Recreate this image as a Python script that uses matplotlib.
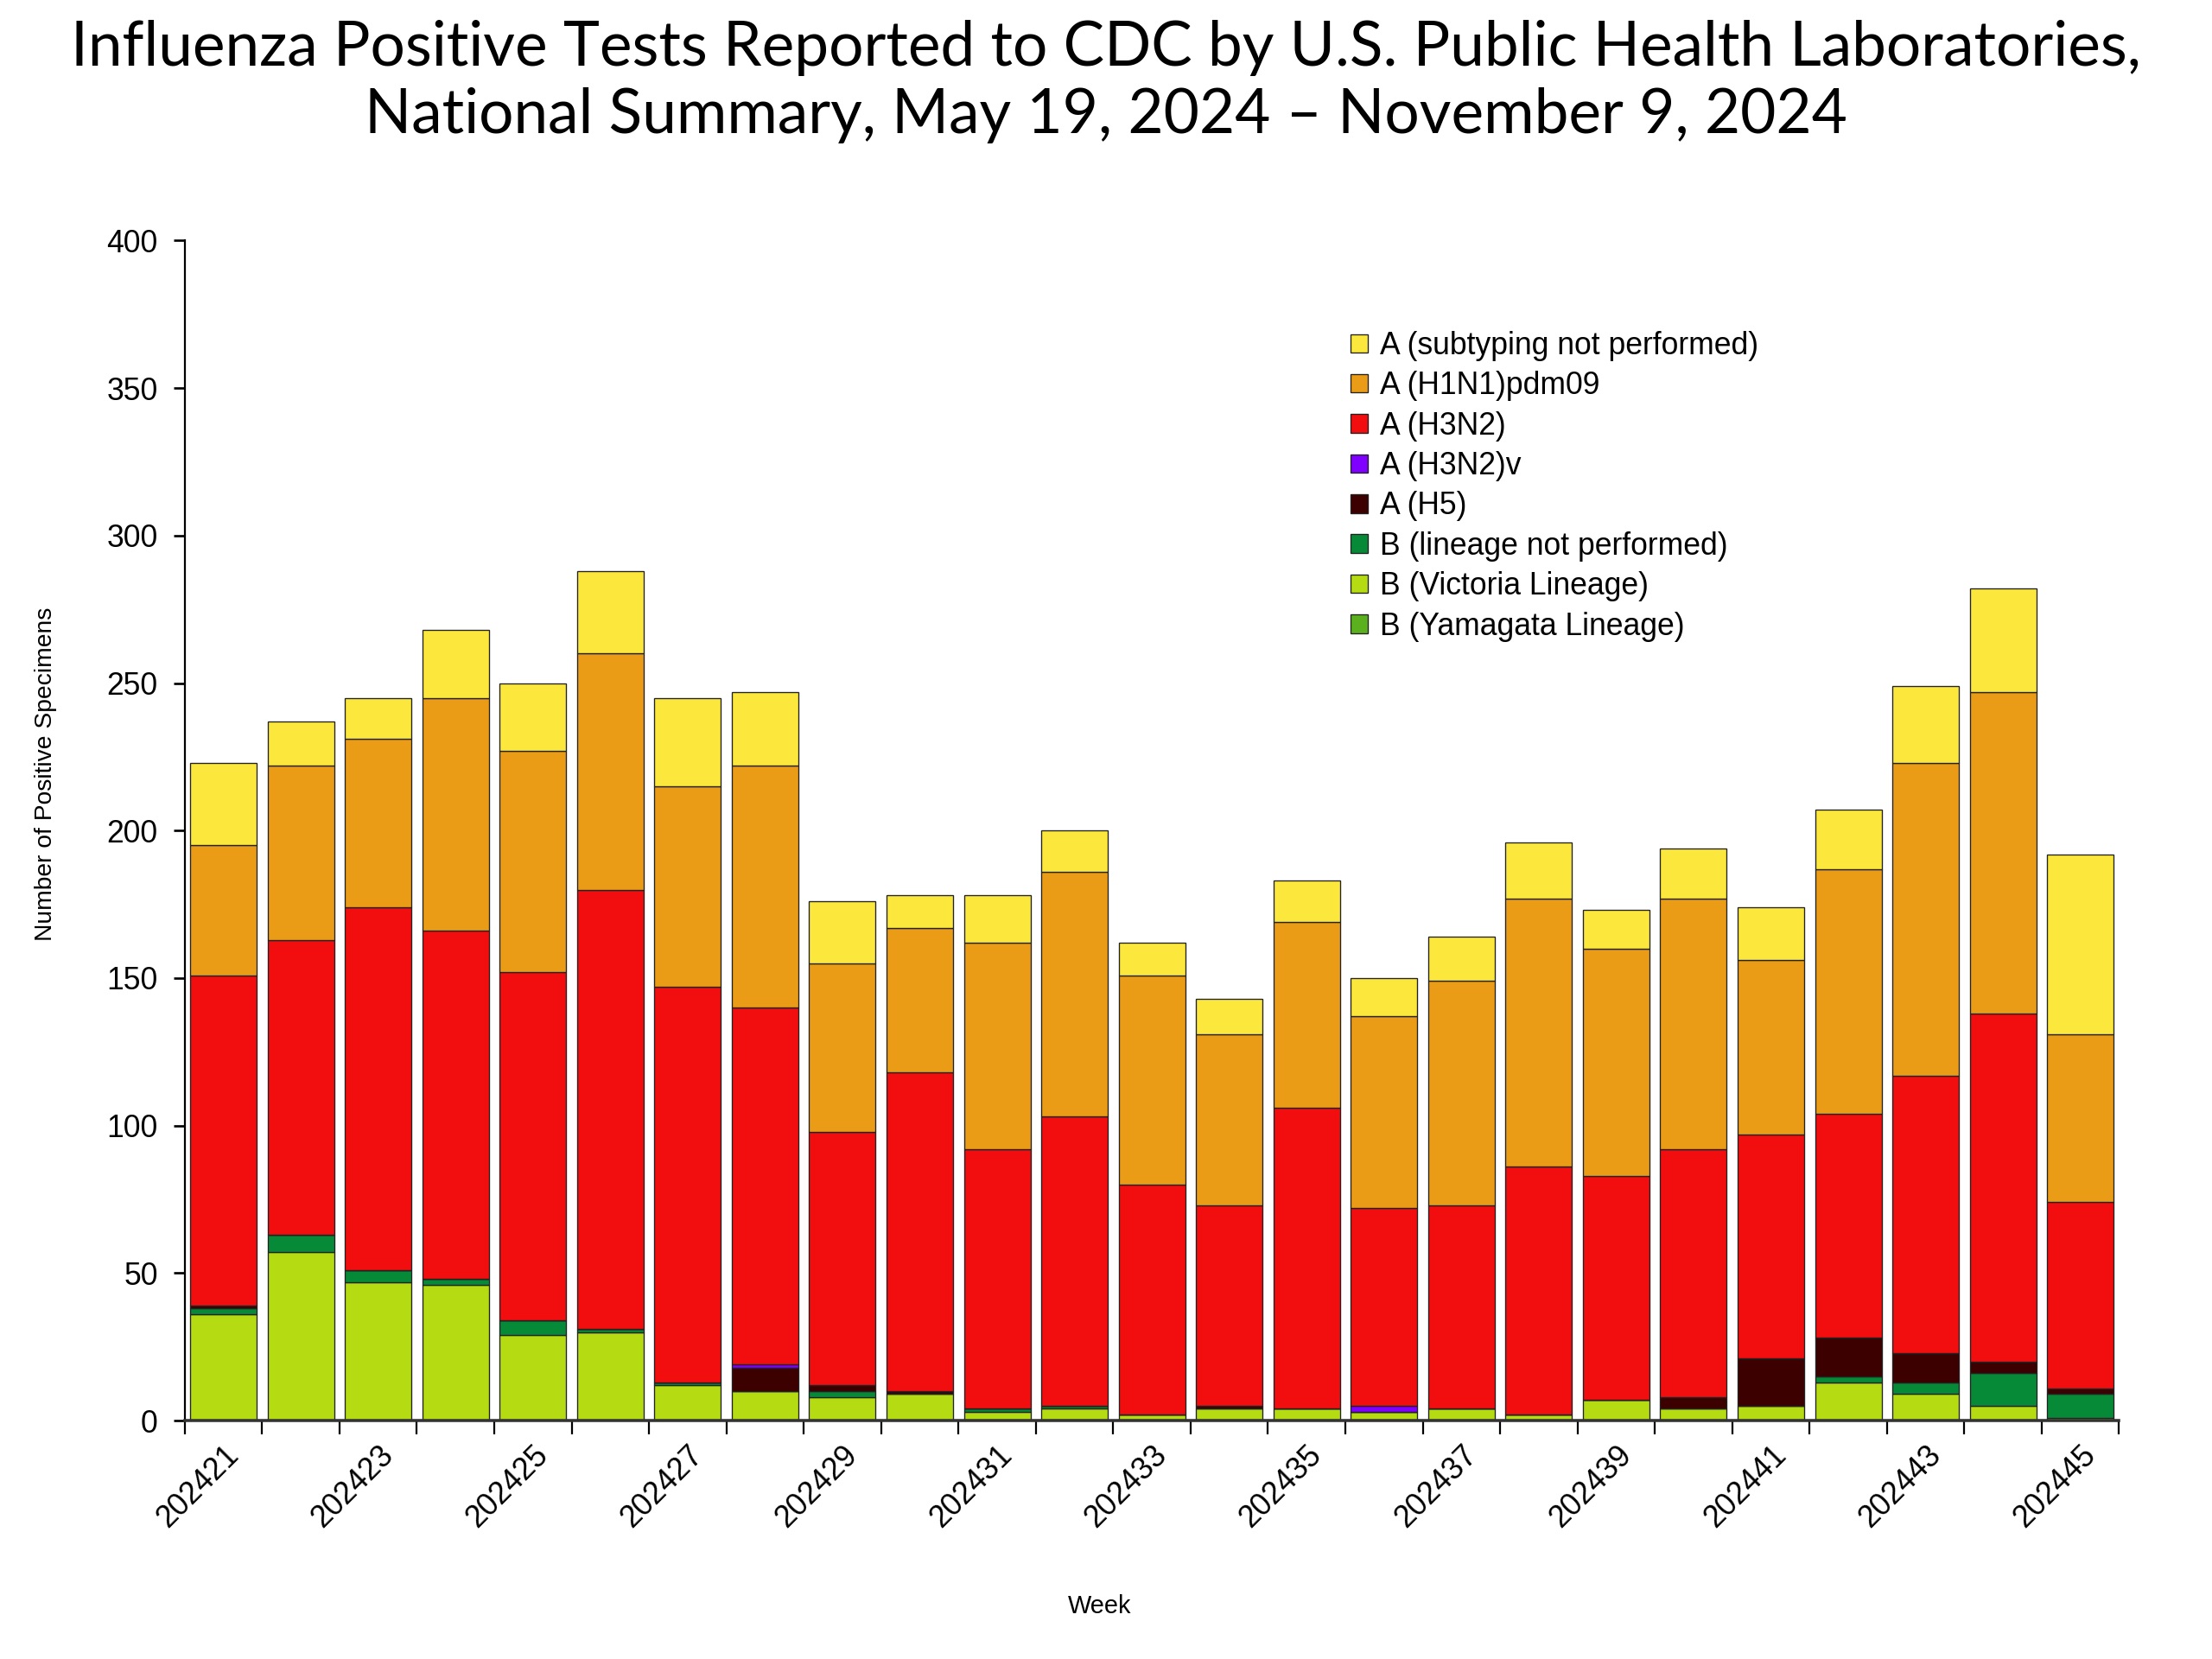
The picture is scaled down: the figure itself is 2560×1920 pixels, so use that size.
import numpy as np
import matplotlib
matplotlib.use("Agg")
import matplotlib.pyplot as plt
from matplotlib.patches import Patch

# Data (counts per week)
weeks = [202421, 202422, 202423, 202424, 202425, 202426, 202427, 202428, 202429,
         202430, 202431, 202432, 202433, 202434, 202435, 202436, 202437, 202438,
         202439, 202440, 202441, 202442, 202443, 202444, 202445]

b_yamagata = [0] * 25
b_victoria = [36, 57, 47, 46, 29, 30, 12, 10, 8, 9, 3, 4, 2, 4, 4, 3, 4, 2, 7, 4, 5, 13, 9, 5, 1]
b_lineage_np = [2, 6, 4, 2, 5, 1, 1, 0, 2, 0, 1, 1, 0, 0, 0, 0, 0, 0, 0, 0, 0, 2, 4, 11, 8]
a_h5 = [1, 0, 0, 0, 0, 0, 0, 8, 2, 1, 0, 0, 0, 1, 0, 0, 0, 0, 0, 4, 16, 13, 10, 4, 2]
a_h3n2v = [0, 0, 0, 0, 0, 0, 0, 1, 0, 0, 0, 0, 0, 0, 0, 2, 0, 0, 0, 0, 0, 0, 0, 0, 0]
a_h3n2 = [112, 100, 123, 118, 118, 149, 134, 121, 86, 108, 88, 98, 78, 68, 102, 67, 69, 84,
          76, 84, 76, 76, 94, 118, 63]
a_h1n1 = [44, 59, 57, 79, 75, 80, 68, 82, 57, 49, 70, 83, 71, 58, 63, 65, 76, 91, 77, 85,
          59, 83, 106, 109, 57]
a_unsub = [28, 15, 14, 23, 23, 28, 30, 25, 21, 11, 16, 14, 11, 12, 14, 13, 15, 19, 13, 17,
           18, 20, 26, 35, 61]

# bottom to top stacking order
series = [
    ("B (Yamagata Lineage)", b_yamagata, "#5BB01E"),
    ("B (Victoria Lineage)", b_victoria, "#B5DB12"),
    ("B (lineage not performed)", b_lineage_np, "#078A38"),
    ("A (H5)", a_h5, "#3D0000"),
    ("A (H3N2)v", a_h3n2v, "#7F00FF"),
    ("A (H3N2)", a_h3n2, "#F20D0F"),
    ("A (H1N1)pdm09", a_h1n1, "#EA9C17"),
    ("A (subtyping not performed)", a_unsub, "#FCE83C"),
]

plt.rcParams['font.family'] = ['Liberation Sans', 'DejaVu Sans']

fig = plt.figure(figsize=(16, 12), dpi=160)
ax = fig.add_axes([0.0835, 0.1437, 0.8745, 0.7113])

x = np.arange(len(weeks))
bottom = np.zeros(len(weeks))
for name, vals, col in series:
    vals = np.array(vals, dtype=float)
    ax.bar(x, vals, width=0.86, bottom=bottom, color=col, edgecolor="#222222",
           linewidth=0.6, label=name)
    bottom += vals

ax.set_xlim(-0.5, len(weeks) - 0.5)
ax.set_ylim(0, 400)
ax.set_yticks(np.arange(0, 401, 50))
ax.tick_params(axis='y', labelsize=16, length=6, width=1.2, direction='out', pad=8)

ax.set_xticks(x[::2])
ax.set_xticklabels([str(w) for w in weeks[::2]], rotation=45, ha='right',
                   rotation_mode='anchor', fontsize=16)
ax.tick_params(axis='x', which='major', length=0, pad=10)
ax.set_xticks(np.arange(-0.5, len(weeks), 1.0), minor=True)
ax.tick_params(axis='x', which='minor', length=7, width=1.0, direction='out')

for s in ['top', 'right']:
    ax.spines[s].set_visible(False)
ax.spines['left'].set_linewidth(1.0)
ax.spines['bottom'].set_linewidth(1.6)
ax.spines['bottom'].set_color("#333333")

ax.set_ylabel("Number of Positive Specimens", fontsize=12.7)
ax.yaxis.set_label_coords(-0.066, 0.548)
ax.set_xlabel("Week", fontsize=13)
ax.xaxis.set_label_coords(0.473, -0.147)

fig.suptitle("Influenza Positive Tests Reported to CDC by U.S. Public Health Laboratories,\n"
             "National Summary, May 19, 2024 \u2013 November 9, 2024",
             fontsize=32, family=['Lato', 'DejaVu Sans'], y=0.988, linespacing=1.25)

handles = [Patch(facecolor=c, edgecolor="#222222", linewidth=0.6, label=n)
           for n, v, c in series[::-1]]
fig.legend(handles=handles, loc='upper left', bbox_to_anchor=(0.605, 0.808),
           frameon=False, fontsize=16, handlelength=0.55, handleheight=0.55,
           handletextpad=0.4, labelspacing=0.32, borderaxespad=0)

fig.savefig("out.png", dpi=160, facecolor="white")
